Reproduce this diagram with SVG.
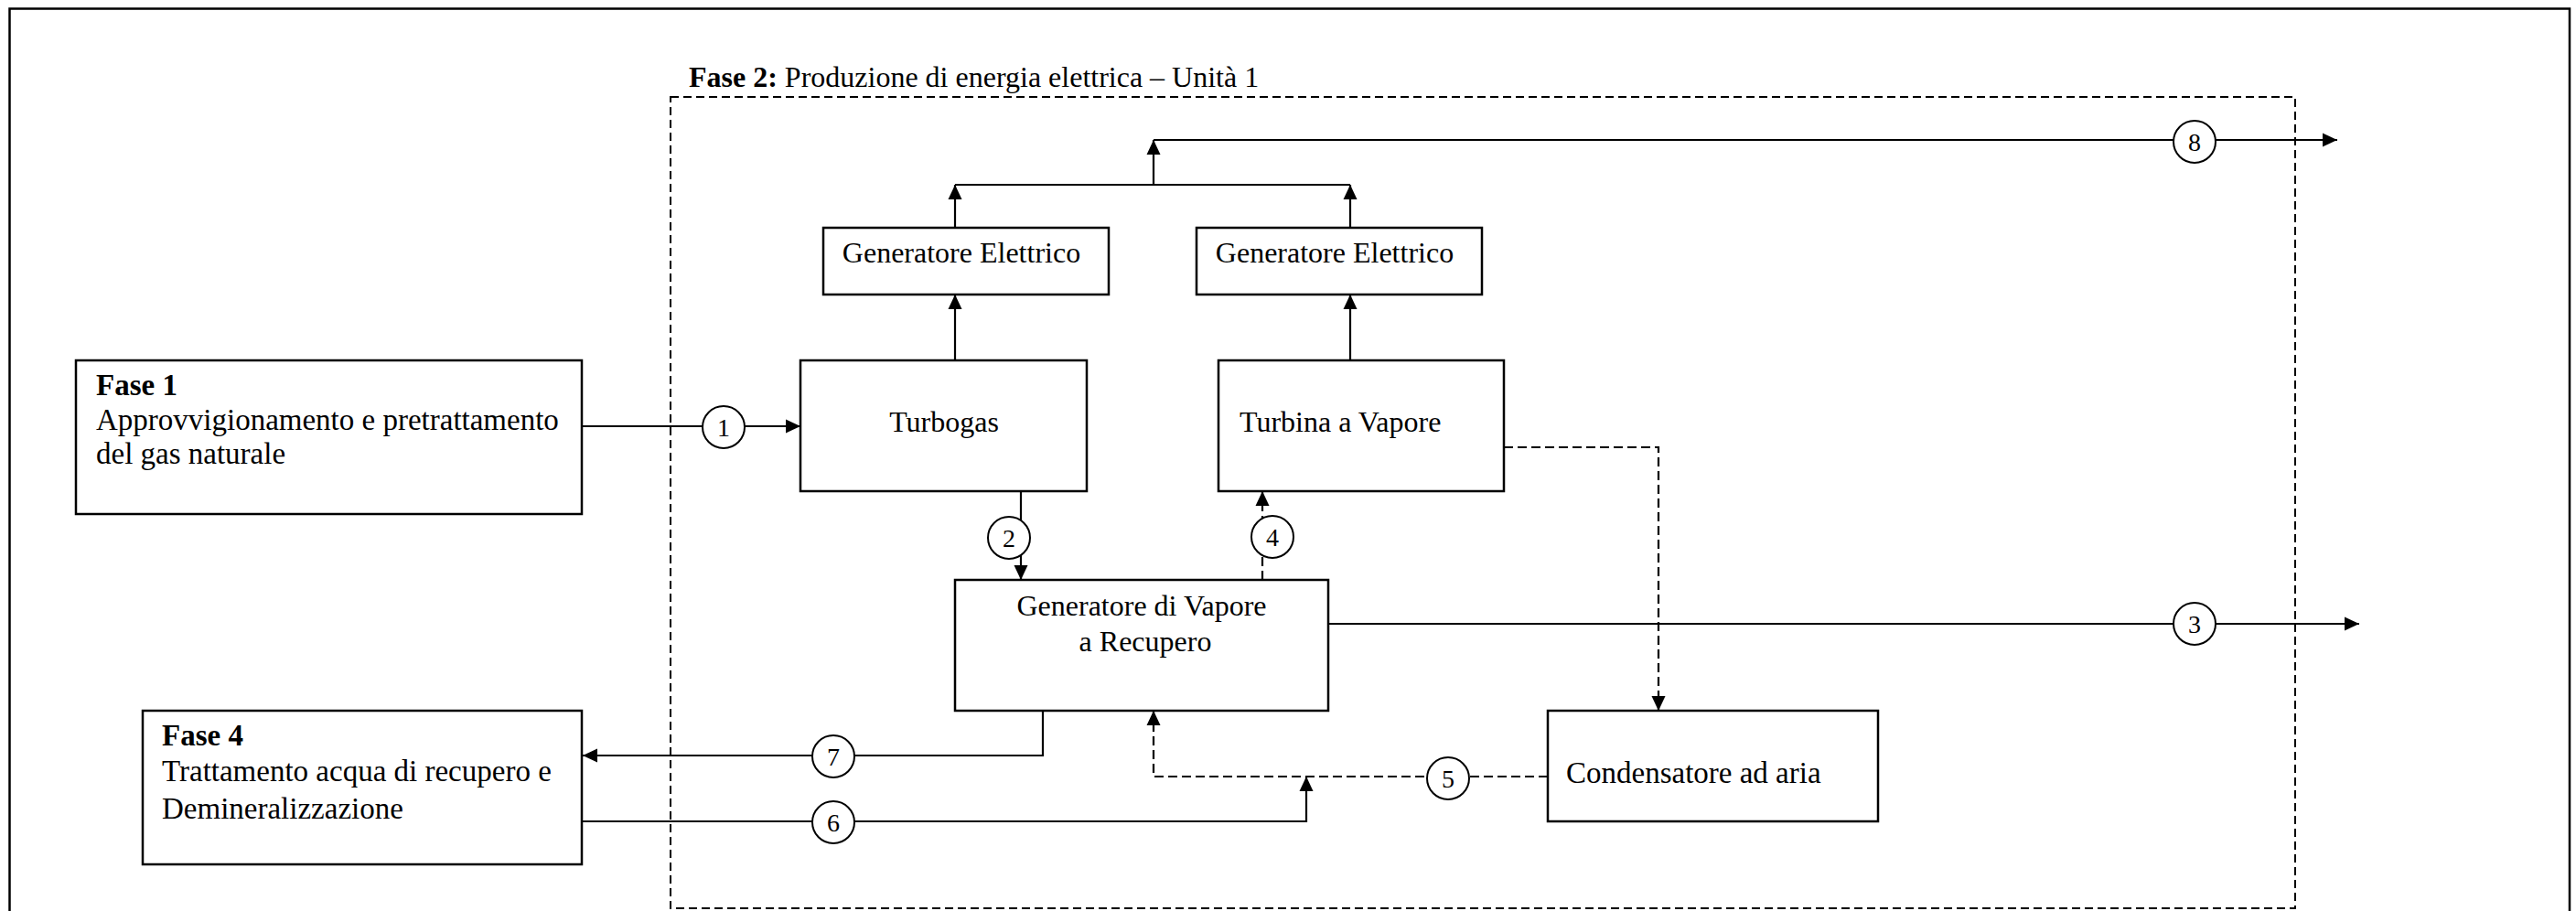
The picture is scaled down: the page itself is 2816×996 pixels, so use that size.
<svg xmlns="http://www.w3.org/2000/svg" width="2816" height="996" viewBox="0 0 2816 996">
<defs>
<marker id="ah" markerUnits="userSpaceOnUse" markerWidth="16" markerHeight="16" refX="16" refY="8" orient="auto" viewBox="0 0 16 16">
<path d="M0,0.5 L16,8 L0,15.5 z" fill="#000"/>
</marker>
<style>
.box{fill:#fff;stroke:#000;stroke-width:2.5}
.t{font-family:"Liberation Serif","Times New Roman",serif;font-size:32px;fill:#000}
.w{font-size:33px}
.b{font-weight:bold}
.c{fill:none;stroke:#000;stroke-width:2.2}
.a{marker-end:url(#ah)}
.d{stroke-dasharray:10 5}
.ph{fill:none;stroke:#000;stroke-width:2;stroke-dasharray:9 5}
.lbl circle{fill:#fff;stroke:#000;stroke-width:2}
.lbl text{font-family:"Liberation Serif","Times New Roman",serif;font-size:28px;text-anchor:middle;fill:#000}
</style>
</defs>
<rect x="0" y="0" width="2816" height="996" fill="#fff"/>
<rect x="10.5" y="9.5" width="2798.5" height="1010" fill="none" stroke="#000" stroke-width="2.5"/>

<g id="fase2">
<rect class="ph" x="733" y="106" width="1776" height="887"/>
<text class="t" x="753" y="95"><tspan class="b">Fase 2:</tspan> Produzione di energia elettrica – Unità 1</text>
</g>

<g id="connectors">
<path class="c a" d="M636,466 H875"/>
<path class="c a" d="M1116,537 V634"/>
<path class="c a" d="M1452,682 H2579"/>
<path class="c d a" d="M1380,634 V537"/>
<path class="c d a" d="M1692,849 H1261 V777"/>
<path class="c a" d="M636,898 H1428 V849"/>
<path class="c a" d="M1140,777 V826 H637"/>
<path class="c a" d="M1044,394 V322"/>
<path class="c a" d="M1476,394 V322"/>
<path class="c a" d="M1044,249 V202"/>
<path class="c a" d="M1476,249 V202"/>
<path class="c" d="M1044,202 H1476"/>
<path class="c a" d="M1261,202 V153"/>
<path class="c a" d="M1261,153 H2555"/>
<path class="c d a" d="M1644,489 H1813 V777"/>
<g class="lbl">
<circle cx="791" cy="467" r="23"/><text x="791" y="477">1</text>
<circle cx="1103" cy="588" r="23"/><text x="1103" y="598">2</text>
<circle cx="2399" cy="682" r="23"/><text x="2399" y="692">3</text>
<circle cx="1391" cy="587" r="23"/><text x="1391" y="597">4</text>
<circle cx="1583" cy="851" r="23"/><text x="1583" y="861">5</text>
<circle cx="911" cy="899" r="23"/><text x="911" y="909">6</text>
<circle cx="911" cy="827" r="23"/><text x="911" y="837">7</text>
<circle cx="2399" cy="155" r="23"/><text x="2399" y="165">8</text>
</g>
</g>

<g id="fase1">
<rect class="box" x="83" y="394" width="553" height="168"/>
<text class="t w b" x="105" y="432">Fase 1</text>
<text class="t w" x="105" y="470">Approvvigionamento e pretrattamento</text>
<text class="t w" x="105" y="507">del gas naturale</text>
</g>

<g id="fase4">
<rect class="box" x="156" y="777" width="480" height="168"/>
<text class="t w b" x="177" y="815">Fase 4</text>
<text class="t w" x="177" y="854">Trattamento acqua di recupero e</text>
<text class="t w" x="177" y="895">Demineralizzazione</text>
</g>

<g id="turbogas">
<rect class="box" x="875" y="394" width="313" height="143"/>
<text class="t" x="1032" y="472" text-anchor="middle">Turbogas</text>
</g>

<g id="turbina">
<rect class="box" x="1332" y="394" width="312" height="143"/>
<text class="t" x="1355" y="472">Turbina a Vapore</text>
</g>

<g id="gen1">
<rect class="box" x="900" y="249" width="312" height="73"/>
<text class="t" x="1051" y="287" text-anchor="middle">Generatore Elettrico</text>
</g>

<g id="gen2">
<rect class="box" x="1308" y="249" width="312" height="73"/>
<text class="t" x="1459" y="287" text-anchor="middle">Generatore Elettrico</text>
</g>

<g id="gvr">
<rect class="box" x="1044" y="634" width="408" height="143"/>
<text class="t" x="1248" y="673" text-anchor="middle">Generatore di Vapore</text>
<text class="t" x="1252" y="712" text-anchor="middle">a Recupero</text>
</g>

<g id="condensatore">
<rect class="box" x="1692" y="777" width="361" height="121"/>
<text class="t w" x="1712" y="856">Condensatore ad aria</text>
</g>
</svg>
